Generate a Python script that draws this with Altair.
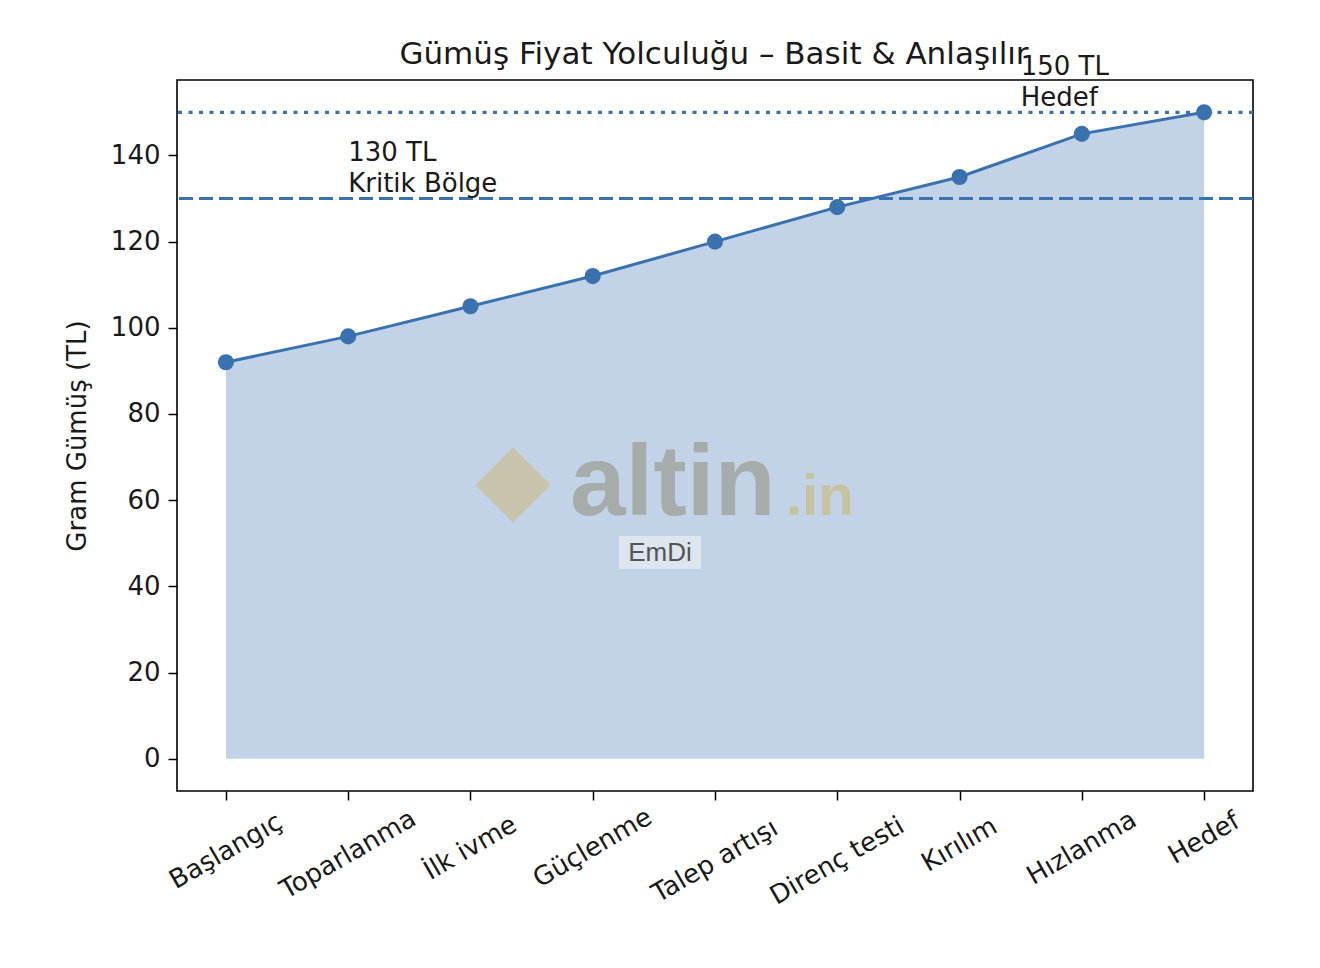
import altair as alt
import pandas as pd

# ---- data ----
categories = ["Başlangıç", "Toparlanma", "İlk ivme", "Güçlenme", "Talep artışı",
              "Direnç testi", "Kırılım", "Hızlanma", "Hedef"]
prices = [92, 98, 105, 112, 120, 128, 135, 145, 150]
y_ticks = [0, 20, 40, 60, 80, 100, 120, 140]
ref_levels = [130, 150]
ref_dash = [[14, 6], [4, 6.5]]
ann_x = [1, 6.5]
ann_y = [131, 151]
ann_text = ["130 TL\nKritik Bölge", "150 TL\nHedef"]
title_text = "Gümüş Fiyat Yolculuğu – Basit & Anlaşılır"
y_title = "Gram Gümüş (TL)"

W, H = 1076, 711
Y_DOM = [-7.5, 157.5]
X_DOM = [-0.4, 8.4]
PX = (Y_DOM[1] - Y_DOM[0]) / H  # data units per pixel

LINE = "#3a72b0"
FONT = "DejaVu Sans"

df = pd.DataFrame({"idx": list(range(len(categories))), "cat": categories, "price": prices})
ann = pd.DataFrame({"x": ann_x, "y": ann_y, "t": ann_text})

xs = alt.Scale(domain=X_DOM, nice=False, zero=False)
ys = alt.Scale(domain=Y_DOM, nice=False, zero=False)

x_axis = alt.Axis(values=list(range(len(categories))), labels=False, tickSize=9,
                  tickWidth=1.5, tickColor="black", domain=False, grid=False, title=None)
y_axis = alt.Axis(values=y_ticks, labelFontSize=26, labelFont=FONT, labelColor="#1a1a1a",
                  tickSize=9, tickWidth=1.5, tickColor="black", labelPadding=8,
                  domain=False, grid=False, title=y_title, titleFont=FONT,
                  titleFontSize=26, titleFontWeight="normal", titleColor="#1a1a1a",
                  titlePadding=20)

base = alt.Chart(df)

area = base.mark_area(color=LINE, opacity=0.31).encode(
    x=alt.X("idx:Q", scale=xs, axis=x_axis),
    y=alt.Y("price:Q", scale=ys, axis=y_axis),
    y2=alt.datum(0),
)

rules = [
    alt.Chart(pd.DataFrame({"v": [lvl]})).mark_rule(
        color=LINE, strokeWidth=3.2, strokeDash=dash
    ).encode(y=alt.Y("v:Q", scale=ys))
    for lvl, dash in zip(ref_levels, ref_dash)
]

line = base.mark_line(color=LINE, strokeWidth=3).encode(
    x=alt.X("idx:Q", scale=xs), y=alt.Y("price:Q", scale=ys))
pts = base.mark_circle(color=LINE, size=260, opacity=1).encode(
    x=alt.X("idx:Q", scale=xs), y=alt.Y("price:Q", scale=ys))

# rotated category labels (matplotlib-style rotation=30, centered)
xlabels = base.transform_calculate(
    ly=f"{Y_DOM[0]} - (31 + 3.25*length(datum.cat)) * {PX}"
).mark_text(angle=330, align="center", baseline="middle", fontSize=26,
            font=FONT, color="#1a1a1a").encode(
    x=alt.X("idx:Q", scale=xs), y=alt.Y("ly:Q", scale=ys), text="cat:N")

annot = alt.Chart(ann).mark_text(align="left", baseline="bottom", fontSize=26,
                                 font=FONT, color="#1a1a1a", lineBreak="\n",
                                 lineHeight=31, dy=-28).encode(
    x=alt.X("x:Q", scale=xs), y=alt.Y("y:Q", scale=ys), text="t:N")

one = pd.DataFrame({"k": [0]})
title = alt.Chart(one).mark_text(text=title_text, fontSize=31, font=FONT, color="#1a1a1a",
                                 align="center", baseline="alphabetic").encode(
    x=alt.value(537), y=alt.value(-16))

# watermark
logo = alt.Chart(one).mark_point(shape="diamond", filled=True, color="#cdb77a",
                                 opacity=0.55, size=5600).encode(
    x=alt.value(336), y=alt.value(405))
wm1 = alt.Chart(one).mark_text(text="altin", fontSize=100, font="Liberation Sans",
                               fontWeight="bold", color="#a6aca9", align="left",
                               baseline="alphabetic").encode(x=alt.value(393), y=alt.value(435))
wm2 = alt.Chart(one).mark_text(text=".in", fontSize=58, font="Liberation Sans",
                               fontWeight="bold", color="#c6c39f", align="left",
                               baseline="alphabetic").encode(x=alt.value(609), y=alt.value(435))
emdi_bg = alt.Chart(one).mark_rect(color="#dde5ee").encode(
    x=alt.value(442), x2=alt.value(524), y=alt.value(456), y2=alt.value(489))
emdi = alt.Chart(one).mark_text(text="EmDi", fontSize=26, font="Liberation Sans",
                                color="#555555", align="center", baseline="middle").encode(
    x=alt.value(483), y=alt.value(473))

chart = alt.layer(
    area, *rules, line, pts, logo, wm1, wm2, emdi_bg, emdi, xlabels, annot, title
).properties(
    width=W, height=H,
    background="white",
    autosize=alt.AutoSizeParams(type="none"),
    padding={"left": 169, "top": 72, "right": 59, "bottom": 160},
).configure_view(stroke="black", strokeWidth=1.6)

chart.save("out.html", embed_options={"renderer": "svg", "actions": False})
